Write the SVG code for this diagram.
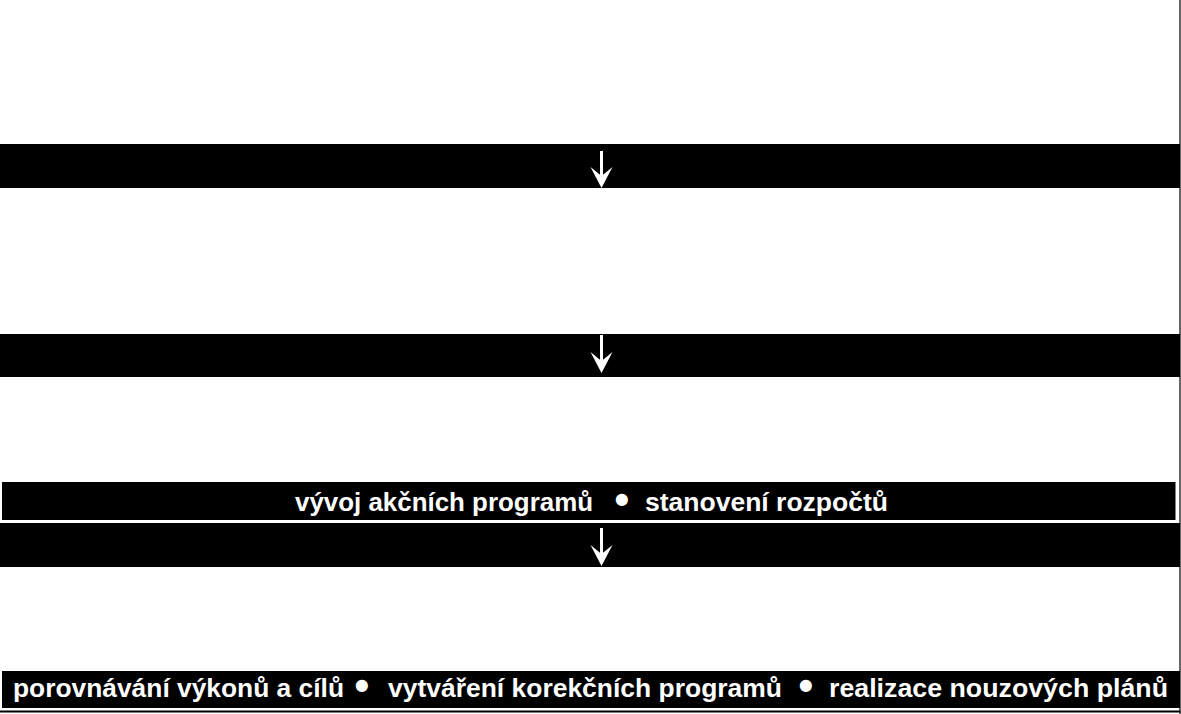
<svg xmlns="http://www.w3.org/2000/svg" width="1181" height="714" viewBox="0 0 1181 714">
  <style>
    .band { fill: #000; }
    .lbl { font-family: "Liberation Sans", Arial, sans-serif; font-weight: bold; font-size: 26px; fill: #fff; }
    .bul { font-size: 42px; }
    .shaft { stroke: #fff; stroke-width: 3; fill: none; }
    .head { fill: #fff; }
    .frame { stroke: #000; fill: none; }
  </style>
  <defs>
    <path id="ahead" class="head" d="M0,0 L-11,-21 L0,-12 L11,-21 Z"/>
  </defs>
  <rect width="1181" height="714" fill="#fff"/>

  <g id="band1"><rect class="band" x="0" y="144" width="1180" height="44"/></g>
  <g id="band2"><rect class="band" x="0" y="334" width="1180" height="43"/></g>
  <g id="box-akce">
    <rect class="band" x="2" y="482" width="1173.5" height="38"/>
    <text class="lbl"><tspan x="295" y="511" textLength="298" lengthAdjust="spacingAndGlyphs">vývoj akčních programů</tspan><tspan class="bul" x="614.6" y="514">•</tspan><tspan x="645" y="511" textLength="243" lengthAdjust="spacingAndGlyphs">stanovení rozpočtů</tspan></text>
  </g>
  <g id="band3"><rect class="band" x="0" y="523" width="1180" height="44"/></g>
  <g id="box-kontrola">
    <rect class="band" x="2" y="671" width="1178" height="37"/>
    <text class="lbl"><tspan x="13" y="697" textLength="331" lengthAdjust="spacingAndGlyphs">porovnávání výkonů a cílů</tspan><tspan class="bul" x="354.6" y="700">•</tspan><tspan x="388" y="697" textLength="394" lengthAdjust="spacingAndGlyphs">vytváření korekčních programů</tspan><tspan class="bul" x="798.6" y="700">•</tspan><tspan x="829" y="697" textLength="339" lengthAdjust="spacingAndGlyphs">realizace nouzových plánů</tspan></text>
  </g>

  <g id="connectors">
    <line class="shaft" x1="601.5" y1="151" x2="601.5" y2="180"/>
    <use href="#ahead" x="601.5" y="188"/>
    <line class="shaft" x1="601.5" y1="335" x2="601.5" y2="365"/>
    <use href="#ahead" x="601.5" y="373"/>
    <line class="shaft" x1="601.5" y1="528" x2="601.5" y2="558"/>
    <use href="#ahead" x="601.5" y="566"/>
  </g>

  <g id="frame">
    <line class="frame" x1="1180" y1="0" x2="1180" y2="714" stroke-width="1.2"/>
    <line class="frame" x1="0" y1="711.5" x2="1180.5" y2="711.5" stroke-width="2"/>
  </g>
</svg>
